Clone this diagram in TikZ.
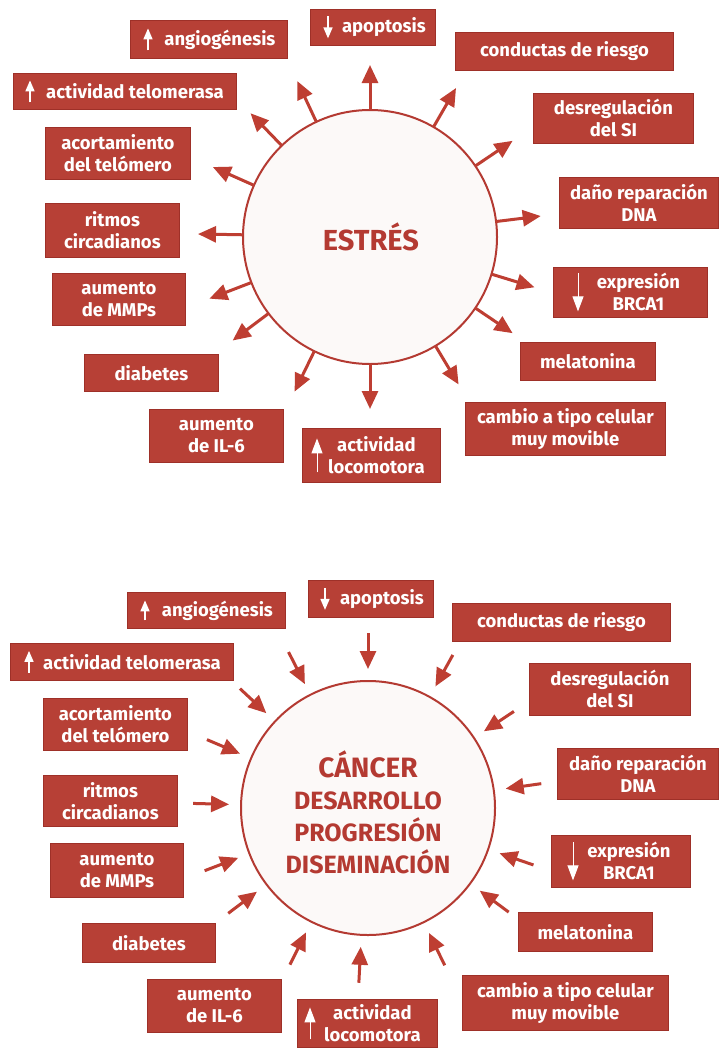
\documentclass[tikz,border=0pt]{standalone}
\usepackage{fontspec}
\setmainfont{Fira Sans}
\usetikzlibrary{calc,arrows.meta}

\definecolor{tagred}{RGB}{183,64,54}
\definecolor{tagedge}{RGB}{158,48,40}
\definecolor{arrowred}{RGB}{190,62,50}
\definecolor{inkred}{RGB}{180,58,50}
\definecolor{paper}{RGB}{252,249,248}

\tikzset{
  tag/.style={fill=tagred, draw=tagedge, line width=0.8pt, inner sep=0pt,
    text=white, font=\bfseries\fontsize{18.5}{22}\selectfont, align=center},
  tagtext/.style={inner sep=0pt, text=white,
    font=\bfseries\fontsize{18.5}{22}\selectfont, align=center},
  flow/.style={draw=arrowred, line width=3pt, -{Triangle[length=18pt,width=16pt]}},
  marksmall/.style={draw=white, line width=1.6pt, -{Triangle[length=11pt,width=9pt]}},
  marklarge/.style={draw=white, line width=1pt, -{Triangle[length=15pt,width=11pt]}},
  hub/.style={circle, draw=inkred, line width=2pt, fill=paper, inner sep=0pt,
    minimum size=254pt},
  hubtext/.style={text=inkred, font=\bfseries, align=center, inner sep=0pt},
}

% plain label box: name, x1, y1, x2, y2, text
\newcommand\plainbox[6]{%
  \node[tag, anchor=north west, minimum width={#4pt-#2pt},
        minimum height={#5pt-#3pt}] (#1) at (#2,-#3) {#6};}
% label box with a small white up/down mark on the left
% name, x1, y1, x2, y2, text shift, mark offset, mark half-height (signed), text
\newcommand\markbox[9]{%
  \node[tag, anchor=north west, minimum width={#4pt-#2pt},
        minimum height={#5pt-#3pt}] (#1) at (#2,-#3) {};
  \node[tagtext] (#1-t) at ($(#1.center)+(#6,0)$) {#9};
  \draw[marksmall] ($(#1.west)+(#7,-#8)$) -- ($(#1.west)+(#7,#8)$);}
\newcommand\tallmarkbox[9]{%
  \node[tag, anchor=north west, minimum width={#4pt-#2pt},
        minimum height={#5pt-#3pt}] (#1) at (#2,-#3) {};
  \node[tagtext] (#1-t) at ($(#1.center)+(#6,0)$) {#9};
  \draw[marklarge] ($(#1.west)+(#7,-#8)$) -- ($(#1.west)+(#7,#8)$);}

\begin{document}
\begin{tikzpicture}[x=1pt,y=1pt]
\useasboundingbox (0,0) rectangle (718,-1049);
\fill[white] (0,0) rectangle (718,-1049);

% ---------------- stress: effects radiating outwards ----------------
\node[hub] (c1) at (370,-237) {};
\node[hubtext, font=\bfseries\fontsize{29}{32}\selectfont] (c1-t) at (371,-237) {ESTRÉS};

\foreach \a in {90,115,134,156,179,201,217,244,270,301,326,343,7,34,60}
  \draw[flow] ($(c1)+(\a:127)$) -- ($(c1)+(\a:172)$);

\markbox{ang1}{130}{20}{287}{58}{11}{18}{11}{angiogénesis}
\markbox{apo1}{310}{9}{435}{45}{11}{18}{-11}{apoptosis}
\plainbox{con1}{455}{32}{673}{70}{conductas de riesgo}
\markbox{tel1}{13}{73}{236}{109}{10}{17}{11}{actividad telomerasa}
\plainbox{aco1}{45}{127}{190}{179}{acortamiento\\del telómero}
\plainbox{rit1}{45}{203}{179}{257}{ritmos\\circadianos}
\plainbox{mmp1}{52}{273}{185}{325}{aumento\\de MMPs}
\plainbox{dia1}{84}{354}{218}{391}{diabetes}
\plainbox{il61}{149}{409}{283}{462}{aumento\\de IL-6}
\tallmarkbox{loc1}{302}{428}{440}{482}{5}{15}{17}{actividad\\locomotora}
\plainbox{cam1}{465}{402}{665}{455}{cambio a tipo celular\\muy movible}
\plainbox{mel1}{520}{342}{655}{380}{melatonina}
\tallmarkbox{brc1}{553}{267}{707}{317}{8}{25}{-19}{expresión\\BRCA1}
\plainbox{dan1}{559}{177}{718}{228}{daño reparación\\DNA}
\plainbox{des1}{533}{93}{693}{143}{desregulación\\del SI}

% ---------------- cancer: the same factors converging ----------------
\node[hub] (c2) at (368,-808) {};
\node[hubtext, font=\bfseries\fontsize{25}{32}\selectfont] (c2-t) at (368,-812)
  {{\fontsize{28}{32}\selectfont CÁNCER}\\
   DESARROLLO\\
   PROGRESIÓN\\
   DISEMINACIÓN};

\foreach \a in {90,117,137,157,178.5,201,217,243.5,267,296,323.5,341,8,33.5,61}
  \draw[flow] ($(c2)+(\a:175)$) -- ($(c2)+(\a:139)$);

\markbox{ang2}{127}{592}{285}{628}{11}{18}{10}{angiogénesis}
\markbox{apo2}{308}{580}{433}{617}{11}{17}{-11}{apoptosis}
\plainbox{con2}{452}{603}{670}{641}{conductas de riesgo}
\markbox{tel2}{10}{643}{233}{680}{10}{19}{11}{actividad telomerasa}
\plainbox{aco2}{43}{698}{187}{750}{acortamiento\\del telómero}
\plainbox{rit2}{43}{775}{177}{826}{ritmos\\circadianos}
\plainbox{mmp2}{50}{843}{183}{897}{aumento\\de MMPs}
\plainbox{dia2}{82}{923}{215}{962}{diabetes}
\plainbox{il62}{147}{979}{281}{1032}{aumento\\de IL-6}
\tallmarkbox{loc2}{297}{999}{437}{1047}{5}{13}{16}{actividad\\locomotora}
\plainbox{cam2}{462}{975}{668}{1030}{cambio a tipo celular\\muy movible}
\plainbox{mel2}{518}{912}{652}{951}{melatonina}
\tallmarkbox{brc2}{551}{835}{690}{887}{8}{22}{-19}{expresión\\BRCA1}
\plainbox{dan2}{557}{748}{718}{799}{daño reparación\\DNA}
\plainbox{des2}{529}{663}{690}{715}{desregulación\\del SI}
\end{tikzpicture}
\end{document}
